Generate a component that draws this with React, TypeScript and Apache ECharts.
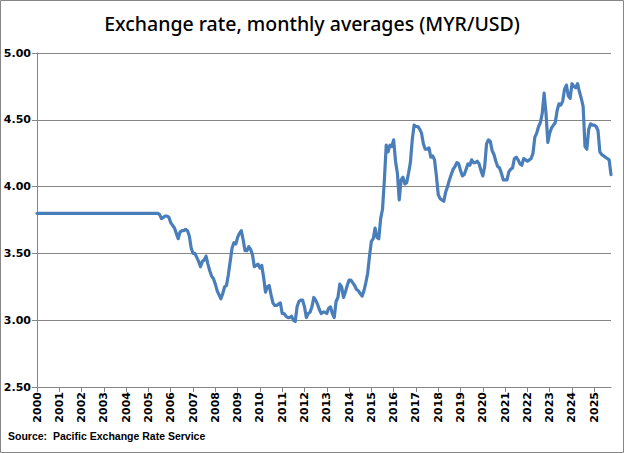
import React, { useEffect, useRef } from "react";
import * as echarts from "echarts";

const startYear = 2000;
const y2000 = [3.8, 3.8, 3.8, 3.8, 3.8, 3.8, 3.8, 3.8, 3.8, 3.8, 3.8, 3.8];
const y2001 = [3.8, 3.8, 3.8, 3.8, 3.8, 3.8, 3.8, 3.8, 3.8, 3.8, 3.8, 3.8];
const y2002 = [3.8, 3.8, 3.8, 3.8, 3.8, 3.8, 3.8, 3.8, 3.8, 3.8, 3.8, 3.8];
const y2003 = [3.8, 3.8, 3.8, 3.8, 3.8, 3.8, 3.8, 3.8, 3.8, 3.8, 3.8, 3.8];
const y2004 = [3.8, 3.8, 3.8, 3.8, 3.8, 3.8, 3.8, 3.8, 3.8, 3.8, 3.8, 3.8];
const y2005 = [3.8, 3.8, 3.8, 3.8, 3.8, 3.8, 3.79, 3.76, 3.77, 3.78, 3.78, 3.77];
const y2006 = [3.73, 3.71, 3.69, 3.65, 3.61, 3.66, 3.67, 3.67, 3.68, 3.67, 3.63, 3.54];
const y2007 = [3.5, 3.5, 3.47, 3.44, 3.4, 3.44, 3.45, 3.48, 3.42, 3.37, 3.33, 3.31];
const y2008 = [3.27, 3.22, 3.19, 3.16, 3.2, 3.25, 3.26, 3.34, 3.44, 3.54, 3.58, 3.57];
const y2009 = [3.62, 3.65, 3.67, 3.6, 3.52, 3.52, 3.55, 3.53, 3.49, 3.4, 3.41, 3.42];
const y2010 = [3.39, 3.41, 3.32, 3.21, 3.25, 3.26, 3.19, 3.13, 3.11, 3.11, 3.12, 3.13];
const y2011 = [3.05, 3.05, 3.03, 3.02, 3.02, 3.03, 3.0, 2.99, 3.1, 3.14, 3.15, 3.15];
const y2012 = [3.1, 3.02, 3.05, 3.06, 3.1, 3.17, 3.15, 3.12, 3.08, 3.05, 3.06, 3.06];
const y2013 = [3.05, 3.09, 3.1, 3.05, 3.02, 3.14, 3.17, 3.27, 3.25, 3.17, 3.21, 3.26];
const y2014 = [3.3, 3.3, 3.28, 3.26, 3.23, 3.22, 3.2, 3.18, 3.22, 3.28, 3.35, 3.48];
const y2015 = [3.59, 3.61, 3.69, 3.62, 3.61, 3.76, 3.83, 4.05, 4.31, 4.26, 4.31, 4.3];
const y2016 = [4.35, 4.19, 4.1, 3.9, 4.05, 4.07, 4.02, 4.03, 4.1, 4.18, 4.35, 4.46];
const y2017 = [4.45, 4.45, 4.43, 4.4, 4.32, 4.28, 4.28, 4.29, 4.22, 4.23, 4.2, 4.08];
const y2018 = [3.94, 3.91, 3.9, 3.89, 3.96, 4.0, 4.05, 4.09, 4.13, 4.15, 4.18, 4.17];
const y2019 = [4.12, 4.08, 4.09, 4.13, 4.17, 4.16, 4.2, 4.18, 4.18, 4.19, 4.17, 4.12];
const y2020 = [4.08, 4.15, 4.32, 4.35, 4.34, 4.27, 4.24, 4.19, 4.15, 4.14, 4.1, 4.05];
const y2021 = [4.05, 4.05, 4.11, 4.13, 4.14, 4.21, 4.22, 4.2, 4.17, 4.16, 4.21, 4.2];
const y2022 = [4.19, 4.2, 4.21, 4.25, 4.37, 4.4, 4.45, 4.48, 4.55, 4.7, 4.55, 4.33];
const y2023 = [4.4, 4.44, 4.46, 4.48, 4.57, 4.62, 4.61, 4.64, 4.73, 4.76, 4.68, 4.66];
const y2024 = [4.77, 4.75, 4.74, 4.77, 4.71, 4.66, 4.6, 4.3, 4.28, 4.43, 4.47, 4.46];
const y2025 = [4.46, 4.45, 4.42, 4.26, 4.24, 4.23, 4.22, 4.21, 4.2, 4.09];

const yearly = [
  y2000, y2001, y2002, y2003, y2004, y2005, y2006, y2007, y2008, y2009,
  y2010, y2011, y2012, y2013, y2014, y2015, y2016, y2017, y2018, y2019,
  y2020, y2021, y2022, y2023, y2024, y2025,
];

const categories: string[] = [];
const values: number[] = [];
yearly.forEach((arr, yi) => {
  arr.forEach((v, m) => {
    categories.push(`${startYear + yi}-${String(m + 1).padStart(2, "0")}`);
    values.push(v);
  });
});

const titleText = "Exchange rate, monthly averages (MYR/USD)";
const sourceText = "Source:  Pacific Exchange Rate Service";

export default function App() {
  const ref = useRef<HTMLDivElement>(null);
  useEffect(() => {
    document.body.style.margin = "0";
    const chart = echarts.init(ref.current!, undefined, { renderer: "svg" });
    chart.setOption({
      animation: false,
      backgroundColor: "#ffffff",
      title: {
        text: titleText,
        left: "center",
        top: 8,
        textStyle: {
          fontFamily: "Noto Sans",
          fontSize: 19.5,
          fontWeight: 500,
          color: "#000000",
        },
      },
      grid: { left: 37, right: 13, top: 53, bottom: 66 },
      xAxis: {
        type: "category",
        data: categories,
        boundaryGap: false,
        axisLine: { lineStyle: { color: "#868686", width: 1 } },
        axisTick: {
          interval: (i: number) => i % 12 === 0,
          length: 5,
          lineStyle: { color: "#868686" },
        },
        axisLabel: {
          interval: (i: number) => i % 12 === 0,
          rotate: 90,
          margin: 5,
          formatter: (v: string) => v.slice(0, 4),
          fontFamily: "DejaVu Sans",
          fontWeight: "bold",
          fontSize: 11,
          color: "#000000",
        },
        splitLine: { show: false },
      },
      yAxis: {
        type: "value",
        min: 2.5,
        max: 5,
        interval: 0.5,
        axisLine: { show: true, lineStyle: { color: "#868686", width: 1 } },
        axisTick: { show: true, length: 5, lineStyle: { color: "#868686" } },
        axisLabel: {
          formatter: (v: number) => v.toFixed(2),
          fontFamily: "DejaVu Sans",
          fontWeight: "bold",
          fontSize: 11,
          color: "#000000",
          margin: 6,
        },
        splitLine: { show: true, lineStyle: { color: "#868686", width: 1 } },
      },
      series: [
        {
          type: "line",
          data: values,
          symbol: "none",
          lineStyle: { color: "#4a7ebb", width: 3.2, join: "round", cap: "round" },
          itemStyle: { color: "#4a7ebb" },
        },
      ],
      graphic: [
        {
          type: "rect",
          shape: { x: 0.5, y: 0.5, width: 623, height: 452 },
          style: { fill: "none", stroke: "#868686", lineWidth: 1 },
          silent: true,
        },
        {
          type: "text",
          left: 8,
          top: 430,
          style: {
            text: sourceText,
            fontFamily: "Liberation Sans",
            fontWeight: "bold",
            fontSize: 10.5,
            fill: "#000000",
          },
        },
      ],
    });
    return () => chart.dispose();
  }, []);
  return <div ref={ref} style={{ width: 624, height: 453 }} />;
}
